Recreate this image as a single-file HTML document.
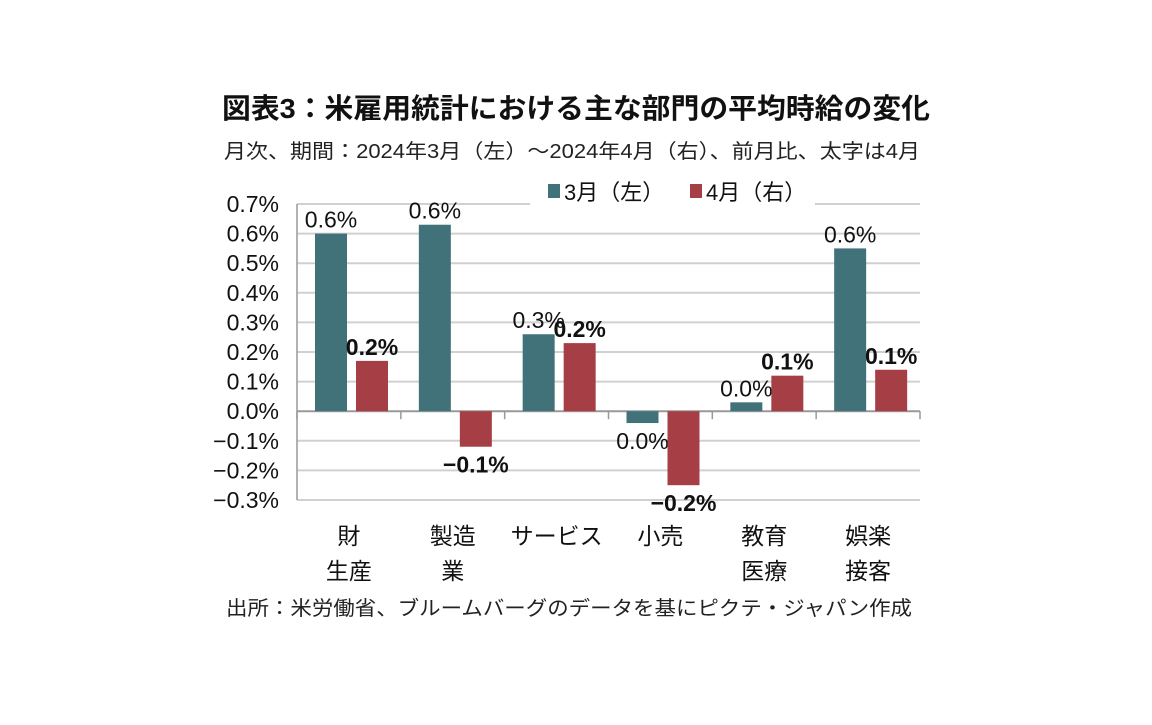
<!DOCTYPE html>
<html><head><meta charset="utf-8">
<style>
body{margin:0;background:#fff;width:1152px;height:720px;overflow:hidden;font-family:"Liberation Sans","Noto Sans CJK JP",sans-serif;}
svg text{font-family:"Liberation Sans","Noto Sans CJK JP",sans-serif;}
</style></head><body>
<svg id="c" width="1152" height="720">
<text x="222" y="118" font-size="28" font-weight="bold" fill="#111" textLength="708" lengthAdjust="spacingAndGlyphs">図表3：米雇用統計における主な部門の平均時給の変化</text>
<text x="224" y="158" font-size="20" fill="#222" textLength="696" lengthAdjust="spacingAndGlyphs">月次、期間：2024年3月（左）～2024年4月（右）、前月比、太字は4月</text>
<text x="226" y="615" font-size="20" fill="#222" textLength="686" lengthAdjust="spacingAndGlyphs">出所：米労働省、ブルームバーグのデータを基にピクテ・ジャパン作成</text>
<g id="plot"></g>
</svg>
<script>
const categories=[["財","生産"],["製造","業"],["サービス"],["小売"],["教育","医療"],["娯楽","接客"]];
const marchValues=[0.60,0.63,0.26,-0.04,0.03,0.55];
const aprilValues=[0.17,-0.12,0.23,-0.25,0.12,0.14];
const marchLabels=["0.6%","0.6%","0.3%","0.0%","0.0%","0.6%"];
const aprilLabels=["0.2%","-0.1%","0.2%","-0.2%","0.1%","0.1%"];
const yTicks=[0.7,0.6,0.5,0.4,0.3,0.2,0.1,0.0,-0.1,-0.2,-0.3];
const NS="http://www.w3.org/2000/svg";
const g=document.getElementById('plot');
const x0=297,x1=920,yMin=-0.3,yMax=0.7,pTop=204,pBot=500;
const y=v=>pBot-(v-yMin)/(yMax-yMin)*(pBot-pTop);
const gw=(x1-x0)/categories.length;
function mk(t,a){const e=document.createElementNS(NS,t);for(const k in a)e.setAttribute(k,a[k]);g.appendChild(e);return e;}
yTicks.forEach(v=>{
 if(v!==0){const l=mk('line',{x1:x0,x2:x1,y1:y(v),y2:y(v),stroke:'#d0d0d0','stroke-width':2});
 
 }
 const t=mk('text',{x:279,y:y(v)+8,'font-size':23,'text-anchor':'end',fill:'#111'});
 t.textContent=(v<0?'−':'')+Math.abs(v).toFixed(1)+'%';
 
 
});
const ax=mk('line',{x1:x0,x2:x0,y1:pTop,y2:pBot,stroke:'#999','stroke-width':1.5});


const zl=mk('line',{x1:x0,x2:x1,y1:y(0),y2:y(0),stroke:'#999','stroke-width':2});


for(let i=0;i<=categories.length;i++){const tk=mk('line',{x1:x0+i*gw,x2:x0+i*gw,y1:y(0),y2:y(0)+8,stroke:'#999','stroke-width':1.5});

}
function bar(i,v,off,col,lab,bold,name){
 const bx=x0+i*gw+off,bw=32,top=Math.min(y(v),y(0)),h=Math.abs(y(v)-y(0));
 const r=mk('rect',{x:bx,y:top,width:bw,height:h,fill:col});
 
 
 const ly=v>=0?y(v)-6:y(v)+26;
 const t=mk('text',{x:bx+bw/2,y:ly,'font-size':23,'text-anchor':'middle',fill:'#111','font-weight':bold?'bold':'normal'});
 t.textContent=lab.replace('-','−');
 
 
}
categories.forEach((c,i)=>{
 bar(i,marchValues[i],18,'#41727a',marchLabels[i],false,'bar-march');
 bar(i,aprilValues[i],59,'#a63e46',aprilLabels[i],true,'bar-april');
 c.forEach((s,j)=>{const t=mk('text',{x:x0+i*gw+gw/2,y:544+j*35,'font-size':23,'text-anchor':'middle',fill:'#111'});
 t.textContent=s;
 
 });
});
const lb=mk('rect',{x:530,y:176,width:285,height:32,fill:'#fff'});


[[548,'#41727a','3月（左）'],[690,'#a63e46','4月（右）']].forEach(d=>{
 const s=mk('rect',{x:d[0],y:184,width:12,height:14,fill:d[1]});
 
 
 const t=mk('text',{x:d[0]+16,y:200,'font-size':22,fill:'#111'});
 t.textContent=d[2];
 
 
});
</script>
</body></html>
